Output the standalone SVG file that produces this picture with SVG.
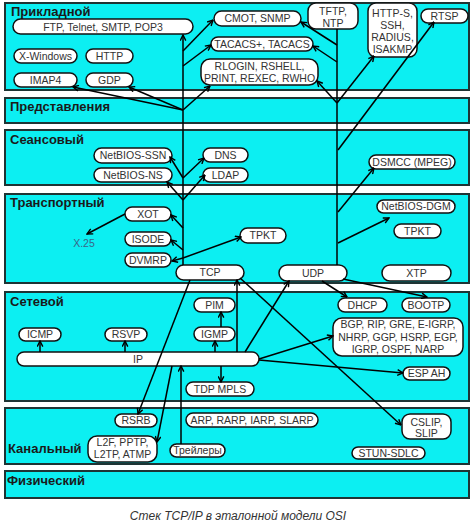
<svg xmlns="http://www.w3.org/2000/svg" width="474" height="530" viewBox="0 0 474 530">
<style>
.layer{fill:#0CEFF2;stroke:#1E3434;stroke-width:2}
.lt{font-family:"Liberation Sans",Arial,sans-serif;font-size:13px;font-weight:bold;fill:#1a1a1a}
.n rect{fill:#fff;stroke:#111;stroke-width:1.5}
.n text,.t{font-family:"Liberation Sans",Arial,sans-serif;font-size:10.5px;fill:#333;text-anchor:middle}
.c path{fill:none;stroke:#000;stroke-width:1.5}
.a{marker-end:url(#ar)}
.cap{font-family:"Liberation Sans",Arial,sans-serif;font-size:12px;font-style:italic;fill:#333;text-anchor:middle}
</style>
<defs>
<marker id="ar" viewBox="0 0 10 10" refX="9" refY="5" markerWidth="7" markerHeight="7" markerUnits="userSpaceOnUse" orient="auto">
<path d="M1,1 L9,5 L1,9" fill="none" stroke="#000" stroke-width="2"/>
</marker>
</defs>
<rect width="474" height="530" fill="#fff"/>
<g id="layers">
<rect class="layer" x="5" y="3" width="464" height="87"/>
<rect class="layer" x="5" y="98" width="464" height="25"/>
<rect class="layer" x="5" y="130" width="464" height="55"/>
<rect class="layer" x="5" y="194" width="464" height="89"/>
<rect class="layer" x="5" y="292" width="464" height="109"/>
<rect class="layer" x="5" y="408" width="464" height="56"/>
<rect class="layer" x="5" y="471" width="464" height="27"/>
<text class="lt" x="11" y="16">Прикладной</text>
<text class="lt" x="10" y="111">Представления</text>
<text class="lt" x="10" y="144">Сеансовый</text>
<text class="lt" x="10" y="207">Транспортный</text>
<text class="lt" x="10" y="306">Сетевой</text>
<text class="lt" x="8" y="453">Канальный</text>
<text class="lt" x="7" y="485">Физический</text>
</g>
<g id="n-ftp" class="n"><rect x="13" y="19" width="180" height="15" rx="7.5"/><text x="103" y="30.5">FTP, Telnet, SMTP, POP3</text></g>
<g id="n-xwin" class="n"><rect x="14" y="49" width="63" height="14" rx="7"/><text x="45.5" y="59.7">X-Windows</text></g>
<g id="n-http" class="n"><rect x="86" y="49" width="47" height="14" rx="7"/><text x="109.5" y="59.7">HTTP</text></g>
<g id="n-imap" class="n"><rect x="14" y="73" width="63" height="14" rx="7"/><text x="45.5" y="83.7">IMAP4</text></g>
<g id="n-gdp" class="n"><rect x="86" y="73" width="47" height="14" rx="7"/><text x="109.5" y="83.7">GDP</text></g>
<g id="n-cmot" class="n"><rect x="214" y="11" width="87" height="15" rx="7.5"/><text x="257.5" y="22.2">CMOT, SNMP</text></g>
<g id="n-tacacs" class="n"><rect x="211" y="37" width="102" height="14" rx="7"/><text x="262" y="47.7">TACACS+, TACACS</text></g>
<g id="n-rlogin" class="n"><rect x="201" y="59" width="117" height="26" rx="9"/><text x="259.5" y="70">RLOGIN, RSHELL,</text><text x="259.5" y="82">PRINT, REXEC, RWHO</text></g>
<g id="n-tftp" class="n"><rect x="308" y="3" width="50" height="26" rx="8"/><text x="333" y="15">TFTP,</text><text x="333" y="26.5">NTP</text></g>
<g id="n-https" class="n"><rect x="368" y="3" width="49" height="54" rx="8"/><text x="392.5" y="16.5">HTTP-S,</text><text x="392.5" y="28.5">SSH,</text><text x="392.5" y="40.5">RADIUS,</text><text x="392.5" y="52.5">ISAKMP</text></g>
<g id="n-rtsp" class="n"><rect x="421" y="9" width="47" height="14" rx="7"/><text x="444.5" y="19.7">RTSP</text></g>
<g id="n-nbssn" class="n"><rect x="94" y="148" width="78" height="15" rx="7.5"/><text x="133" y="159.2">NetBIOS-SSN</text></g>
<g id="n-nbns" class="n"><rect x="94" y="168" width="78" height="14" rx="7"/><text x="133" y="178.7">NetBIOS-NS</text></g>
<g id="n-dns" class="n"><rect x="203" y="148" width="45" height="14" rx="7"/><text x="225.5" y="158.7">DNS</text></g>
<g id="n-ldap" class="n"><rect x="203" y="168" width="45" height="14" rx="7"/><text x="225.5" y="178.7">LDAP</text></g>
<g id="n-dsmcc" class="n"><rect x="369" y="155" width="86" height="14" rx="7"/><text x="412" y="165.7">DSMCC (MPEG)</text></g>
<g id="n-xot" class="n"><rect x="125" y="207" width="46" height="14" rx="7"/><text x="148" y="217.7">XOT</text></g>
<text id="n-x25" class="t" x="84" y="247" style="fill:#3a6688">X.25</text>
<g id="n-isode" class="n"><rect x="125" y="232" width="46" height="14" rx="7"/><text x="148" y="242.7">ISODE</text></g>
<g id="n-dvmrp" class="n"><rect x="125" y="253" width="46" height="14" rx="7"/><text x="148" y="263.7">DVMRP</text></g>
<g id="n-tpkt1" class="n"><rect x="240" y="228" width="46" height="15" rx="7.5"/><text x="263" y="239.2">TPKT</text></g>
<g id="n-tcp" class="n"><rect x="176" y="265" width="68" height="15" rx="7.5"/><text x="210" y="276.2">TCP</text></g>
<g id="n-udp" class="n"><rect x="279" y="265" width="68" height="16" rx="8"/><text x="313" y="276.7">UDP</text></g>
<g id="n-xtp" class="n"><rect x="382" y="265" width="69" height="16" rx="8"/><text x="416.5" y="276.7">XTP</text></g>
<g id="n-nbdgm" class="n"><rect x="377" y="200" width="78" height="13" rx="6.5"/><text x="416" y="210.2">NetBIOS-DGM</text></g>
<g id="n-tpkt2" class="n"><rect x="394" y="224" width="47" height="14" rx="7"/><text x="417.5" y="234.7">TPKT</text></g>
<g id="n-pim" class="n"><rect x="194" y="298" width="41" height="14" rx="7"/><text x="214.5" y="308.7">PIM</text></g>
<g id="n-igmp" class="n"><rect x="194" y="327" width="41" height="14" rx="7"/><text x="214.5" y="337.7">IGMP</text></g>
<g id="n-icmp" class="n"><rect x="19" y="328" width="42" height="13" rx="6.5"/><text x="40" y="338.2">ICMP</text></g>
<g id="n-rsvp" class="n"><rect x="105" y="328" width="42" height="13" rx="6.5"/><text x="126" y="338.2">RSVP</text></g>
<g id="n-ip" class="n"><rect x="17" y="352" width="242" height="14" rx="7"/><text x="138" y="362.7">IP</text></g>
<g id="n-tdp" class="n"><rect x="186" y="382" width="68" height="14" rx="7"/><text x="220" y="392.7">TDP MPLS</text></g>
<g id="n-dhcp" class="n"><rect x="338" y="298" width="49" height="14" rx="7"/><text x="362.5" y="308.7">DHCP</text></g>
<g id="n-bootp" class="n"><rect x="402" y="298" width="48" height="14" rx="7"/><text x="426" y="308.7">BOOTP</text></g>
<g id="n-bgp" class="n"><rect x="333" y="318" width="130" height="38" rx="9"/><text x="398" y="328">BGP, RIP, GRE, E-IGRP,</text><text x="398" y="340.5">NHRP, GGP, HSRP, EGP,</text><text x="398" y="352.5">IGRP, OSPF, NARP</text></g>
<g id="n-esp" class="n"><rect x="403" y="367" width="47" height="13" rx="6.5"/><text x="426.5" y="377.2">ESP AH</text></g>
<g id="n-rsrb" class="n"><rect x="115" y="414" width="42" height="13" rx="6.5"/><text x="136" y="424.2">RSRB</text></g>
<g id="n-l2f" class="n"><rect x="88" y="436" width="69" height="26" rx="9"/><text x="122.5" y="446">L2F, PPTP,</text><text x="122.5" y="458">L2TP, ATMP</text></g>
<g id="n-trail" class="n"><rect x="170" y="444" width="55" height="13" rx="6.5"/><text x="197.5" y="454.2">Трейлеры</text></g>
<g id="n-arp" class="n"><rect x="186" y="413" width="132" height="14" rx="7"/><text x="252" y="423.7">ARP, RARP, IARP, SLARP</text></g>
<g id="n-cslip" class="n"><rect x="402" y="414" width="49" height="25" rx="8"/><text x="426.5" y="426">CSLIP,</text><text x="426.5" y="437">SLIP</text></g>
<g id="n-stun" class="n"><rect x="352" y="447" width="73" height="12" rx="6"/><text x="388.5" y="456.7">STUN-SDLC</text></g>
<g id="connectors" class="c">
<path class="a" d="M183,265 V35"/>
<path class="a" d="M183,51 L213,20"/>
<path class="a" d="M183,66 L211,45"/>
<path class="a" d="M183,110 L73,87"/>
<path class="a" d="M183,110 L129,87"/>
<path class="a" d="M183,110 L210,86"/>
<path d="M337,265 V29"/>
<path class="a" d="M337,45 L301,22"/>
<path class="a" d="M337,62 L313,46"/>
<path class="a" d="M337,103 L317,81"/>
<path class="a" d="M337,103 L374,56"/>
<path class="a" d="M338,150 L434,22"/>
<path class="a" d="M183,178 L170,157"/>
<path class="a" d="M183,178 L204,158"/>
<path class="a" d="M183,200 L167,182"/>
<path class="a" d="M183,200 L205,175"/>
<path class="a" d="M338,212 L374,168"/>
<path class="a" d="M338,243 L389,218"/>
<path class="a" d="M125,214 L87,234"/>
<path class="a" d="M183,228 L171,215"/>
<path class="a" d="M183,250 L171,240"/>
<path class="a" d="M183,258 L172,261"/>
<path class="a" d="M183,258 L241,237"/>
<path class="a" d="M40,352 V341"/>
<path class="a" d="M125,352 V341"/>
<path class="a" d="M215,352 V341"/>
<path class="a" d="M221,327 V312"/>
<path class="a" d="M221,366 V382"/>
<path class="a" d="M237,352 V280"/>
<path class="a" d="M245,352 L289,281"/>
<path class="a" d="M240,278 L401,425"/>
<path class="a" d="M322,281 L347,297"/>
<path class="a" d="M343,279 L427,297"/>
<path class="a" d="M259,359 L333,336"/>
<path class="a" d="M259,360 L403,373"/>
<path class="a" d="M190,280 L138,414"/>
<path class="a" d="M172,366 L157,442"/>
<path class="a" d="M181,444 V366"/>
</g>
<text class="cap" x="238" y="520">Стек TCP/IP в эталонной модели OSI</text>
</svg>
